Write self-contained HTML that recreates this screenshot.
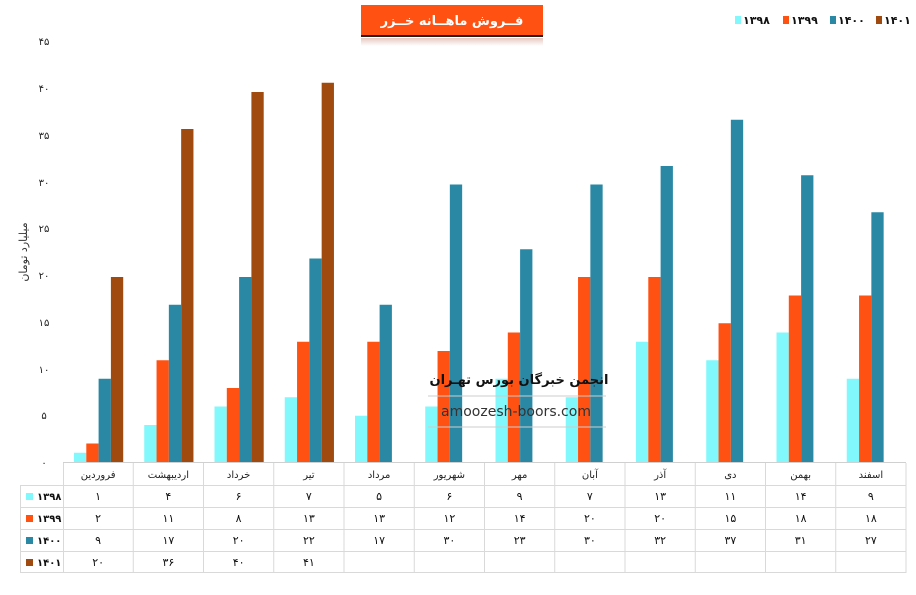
<!DOCTYPE html>
<html><head><meta charset="utf-8"><style>
html,body{margin:0;padding:0;background:#fff;}
svg text{font-family:"DejaVu Sans","Liberation Sans",sans-serif;}
</style></head><body>
<svg width="916" height="590" viewBox="0 0 916 590" xmlns="http://www.w3.org/2000/svg">
<defs>
<linearGradient id="sh" x1="0" y1="0" x2="0" y2="1"><stop offset="0" stop-color="#e8c8c0"/><stop offset="1" stop-color="#fff"/></linearGradient>
</defs>
<rect x="361" y="5" width="182" height="31" fill="#ff5112"/>
<rect x="361" y="35" width="182" height="2" fill="#222"/>
<rect x="361" y="38" width="182" height="8" fill="url(#sh)"/>
<text x="452" y="25" font-size="13" font-weight="bold" fill="#fff" text-anchor="middle" direction="rtl">فــروش ماهــانه خــزر</text>
<g font-size="11" font-weight="bold" fill="#111">
<rect x="735" y="16" width="6" height="8" fill="#80f8fc"/><text x="743" y="24">۱۳۹۸</text>
<rect x="783" y="16" width="6" height="8" fill="#ff5112"/><text x="791" y="24">۱۳۹۹</text>
<rect x="830" y="16" width="6" height="8" fill="#2a88a5"/><text x="838" y="24">۱۴۰۰</text>
<rect x="876" y="16" width="6" height="8" fill="#a04a10"/><text x="884" y="24">۱۴۰۱</text>
</g>
<g font-size="10" fill="#222" text-anchor="middle">
<text x="44" y="45">۴۵</text><text x="44" y="92">۴۰</text><text x="44" y="139">۳۵</text><text x="44" y="186">۳۰</text><text x="44" y="232">۲۵</text><text x="44" y="279">۲۰</text><text x="44" y="326">۱۵</text><text x="44" y="373">۱۰</text><text x="44" y="419">۵</text><text x="44" y="466">۰</text>
</g>
<text transform="translate(27,252) rotate(-90)" font-size="11" fill="#333" text-anchor="middle">میلیارد تومان</text>
<g id="bars"></g>
<line x1="63" y1="462.5" x2="906" y2="462.5" stroke="#d0d0d0"/>
<g stroke="#d9d9d9" fill="none">
<line x1="63" y1="485.5" x2="906" y2="485.5"/>
<line x1="20" y1="485.5" x2="63" y2="485.5"/>
<line x1="20" y1="507.5" x2="906" y2="507.5"/>
<line x1="20" y1="529.5" x2="906" y2="529.5"/>
<line x1="20" y1="551.5" x2="906" y2="551.5"/>
<line x1="20" y1="572.5" x2="906" y2="572.5"/>
<line x1="20.5" y1="485" x2="20.5" y2="573"/>
<line x1="63.5" y1="463" x2="63.5" y2="573"/>
</g>
<g id="tbl"></g>
<text x="519" y="384" font-size="13" font-weight="bold" fill="#111" text-anchor="middle" direction="rtl">انجمن خبرگان بورس تهـران</text>
<line x1="428" y1="396" x2="606" y2="396" stroke="#ccc"/>
<line x1="428" y1="427" x2="606" y2="427" stroke="#ccc"/>
<text x="516" y="416" font-size="14" fill="#333" text-anchor="middle" font-family="Liberation Sans">amoozesh-boors.com</text>
<script>
var m=["فروردین","اردیبهشت","خرداد","تیر","مرداد","شهریور","مهر","آبان","آذر","دی","بهمن","اسفند"];
var d=[[1,4,6,7,5,6,9,7,13,11,14,9],[2,11,8,13,13,12,14,20,20,15,18,18],[9,17,20,22,17,30,23,30,32,37,31,27],[20,36,40,41]];
var c=["#80f8fc","#ff5112","#2a88a5","#a04a10"],n=["۱۳۹۸","۱۳۹۹","۱۴۰۰","۱۴۰۱"];
function fa(v){return String(v).replace(/\d/g,function(x){return "۰۱۲۳۴۵۶۷۸۹"[x];});}
var ns="http://www.w3.org/2000/svg";
function el(p,t,a,tx){var e=document.createElementNS(ns,t);for(var k in a)e.setAttribute(k,a[k]);if(tx!=null)e.textContent=tx;p.appendChild(e);return e;}
var b=document.getElementById("bars"),t=document.getElementById("tbl"),W=70.25;
for(var i=0;i<12;i++){var x0=63+i*W;
for(var s=0;s<4;s++){if(d[s][i]==null)continue;var h=d[s][i]*9.25;el(b,"rect",{x:x0+11+s*12.3,y:462-h,width:12.3,height:h,fill:c[s]});}
el(t,"line",{x1:x0+W,y1:463,x2:x0+W,y2:573,stroke:"#d9d9d9"});
el(t,"text",{x:x0+W/2,y:478,"font-size":10,fill:"#222","text-anchor":"middle"},m[i]);
for(var s=0;s<4;s++){if(d[s][i]==null)continue;el(t,"text",{x:x0+W/2,y:500+s*22,"font-size":11,fill:"#111","text-anchor":"middle"},fa(d[s][i]));}
}
for(var s=0;s<4;s++){el(t,"rect",{x:26,y:493+s*22,width:7,height:7,fill:c[s]});el(t,"text",{x:37,y:500+s*22,"font-size":10,"font-weight":"bold",fill:"#111"},n[s]);}
</script>
</svg>
</body></html>
